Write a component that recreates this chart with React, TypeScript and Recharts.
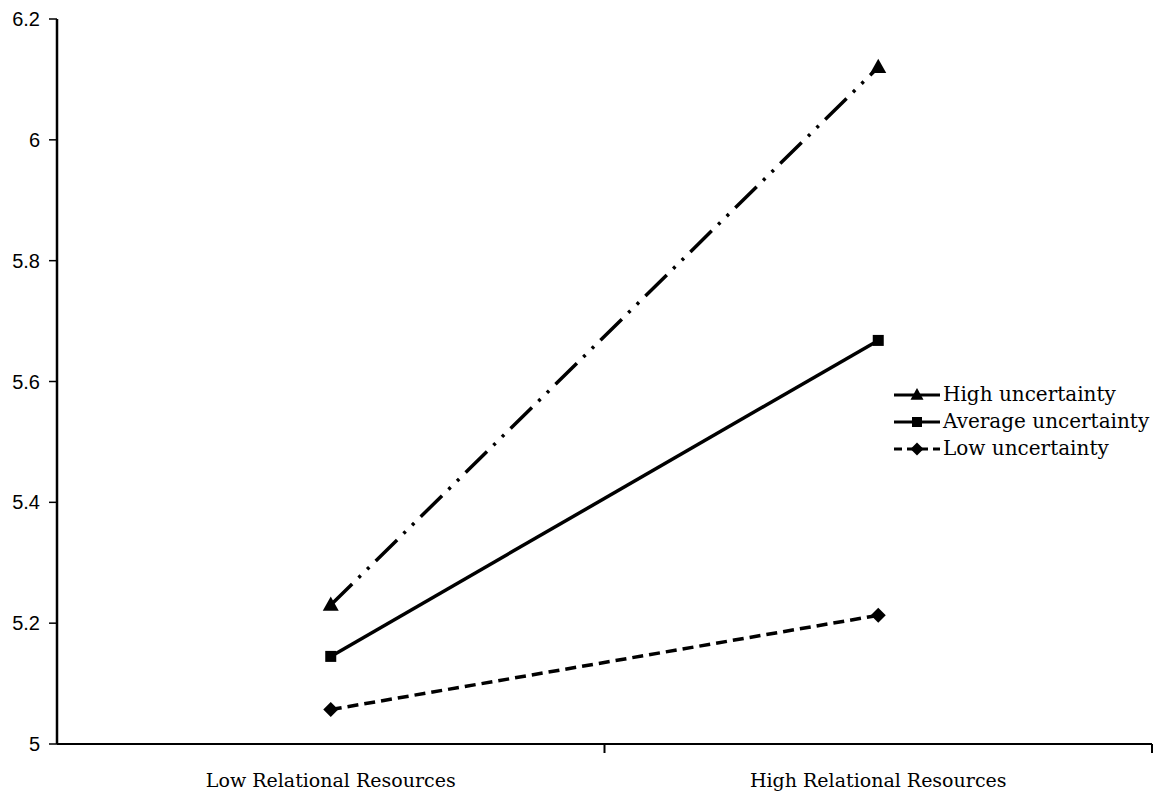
import { LineChart, Line, XAxis, YAxis, Legend } from "recharts";

// values
const categories = ["Low Relational Resources", "High Relational Resources"];
const categoryPositions = [0.5, 1.5];
const highUncertainty = [5.23, 6.12];
const averageUncertainty = [5.145, 5.668];
const lowUncertainty = [5.057, 5.213];
const yTicks = [5, 5.2, 5.4, 5.6, 5.8, 6, 6.2];
const xTicks = [0.5, 1, 1.5, 2];

const data = categories.map((name, i) => ({
  name,
  x: categoryPositions[i],
  high: highUncertainty[i],
  average: averageUncertainty[i],
  low: lowUncertainty[i],
}));

const serif = "'DejaVu Serif', 'Liberation Serif', serif";
const sans = "'Liberation Sans', Arial, sans-serif";

function Triangle({ cx, cy, size = 16 }: { cx: number; cy: number; size?: number }) {
  const h = size * 0.9;
  return (
    <path
      d={`M${cx},${cy - h * 0.6} L${cx + size / 2},${cy + h * 0.4} L${cx - size / 2},${cy + h * 0.4} Z`}
      fill="#000"
    />
  );
}

function Square({ cx, cy, size = 11 }: { cx: number; cy: number; size?: number }) {
  return <rect x={cx - size / 2} y={cy - size / 2} width={size} height={size} fill="#000" />;
}

function Diamond({ cx, cy, size = 15 }: { cx: number; cy: number; size?: number }) {
  const r = size / 2;
  return <path d={`M${cx},${cy - r} L${cx + r},${cy} L${cx},${cy + r} L${cx - r},${cy} Z`} fill="#000" />;
}

const series = [
  { key: "high", label: "High uncertainty", dash: "30 9 3 9 3 9", legendDash: undefined, Marker: Triangle },
  { key: "average", label: "Average uncertainty", dash: undefined, legendDash: undefined, Marker: Square },
  { key: "low", label: "Low uncertainty", dash: "11 6", legendDash: "8 5", Marker: Diamond },
];

const XTick = (props: any) => {
  const { x, y, payload } = props;
  const v = payload.value;
  if (Number.isInteger(v)) {
    return <line x1={x} y1={y - 8} x2={x} y2={y + 1} stroke="#000" strokeWidth={2} />;
  }
  const idx = categoryPositions.indexOf(v);
  return (
    <text x={x} y={y + 35} textAnchor="middle" fontFamily={serif} fontSize={19} fill="#000">
      {categories[idx]}
    </text>
  );
};

const LegendContent = () => (
  <div style={{ fontFamily: serif, fontSize: 20, color: "#000", lineHeight: "27px" }}>
    {series.map((s) => (
      <div key={s.key} style={{ display: "flex", alignItems: "center", whiteSpace: "nowrap" }}>
        <svg width={48} height={20} style={{ marginRight: 2 }}>
          <line x1={1} y1={10} x2={47} y2={10} stroke="#000" strokeWidth={3} strokeDasharray={s.legendDash} />
          <s.Marker cx={24} cy={10} size={s.key === "average" ? 10 : 13} />
        </svg>
        <span>{s.label}</span>
      </div>
    ))}
  </div>
);

export default function App() {
  return (
    <div style={{ position: "absolute", left: 0, top: 0, background: "#fff" }}>
      <LineChart width={1157} height={800} data={data} margin={{ top: 19, right: 5, bottom: 0, left: 0 }}>
        <XAxis
          dataKey="x"
          type="number"
          domain={[0, 2]}
          ticks={xTicks}
          tick={<XTick />}
          tickLine={false}
          tickSize={8}
          tickMargin={0}
          height={56}
          axisLine={{ stroke: "#000", strokeWidth: 2 }}
          interval={0}
        />
        <YAxis
          type="number"
          domain={[5, 6.2]}
          ticks={yTicks}
          width={57}
          tickSize={8}
          tickMargin={9}
          tickLine={{ stroke: "#000", strokeWidth: 1.5 }}
          axisLine={{ stroke: "#000", strokeWidth: 2.5 }}
          tick={{ fill: "#000", fontFamily: sans, fontSize: 20 }}
          interval={0}
        />
        <Legend
          layout="vertical"
          verticalAlign="middle"
          align="center"
          content={<LegendContent />}
          wrapperStyle={{ left: 893, top: 381, width: 264 }}
        />
        {series.map((s) => (
          <Line
            key={s.key}
            dataKey={s.key}
            name={s.label}
            stroke="#000"
            strokeWidth={3.5}
            strokeDasharray={s.dash}
            dot={(p: any) => <s.Marker key={`${s.key}-${p.index}`} cx={p.cx} cy={p.cy} />}
            isAnimationActive={false}
            legendType="none"
          />
        ))}
      </LineChart>
    </div>
  );
}
